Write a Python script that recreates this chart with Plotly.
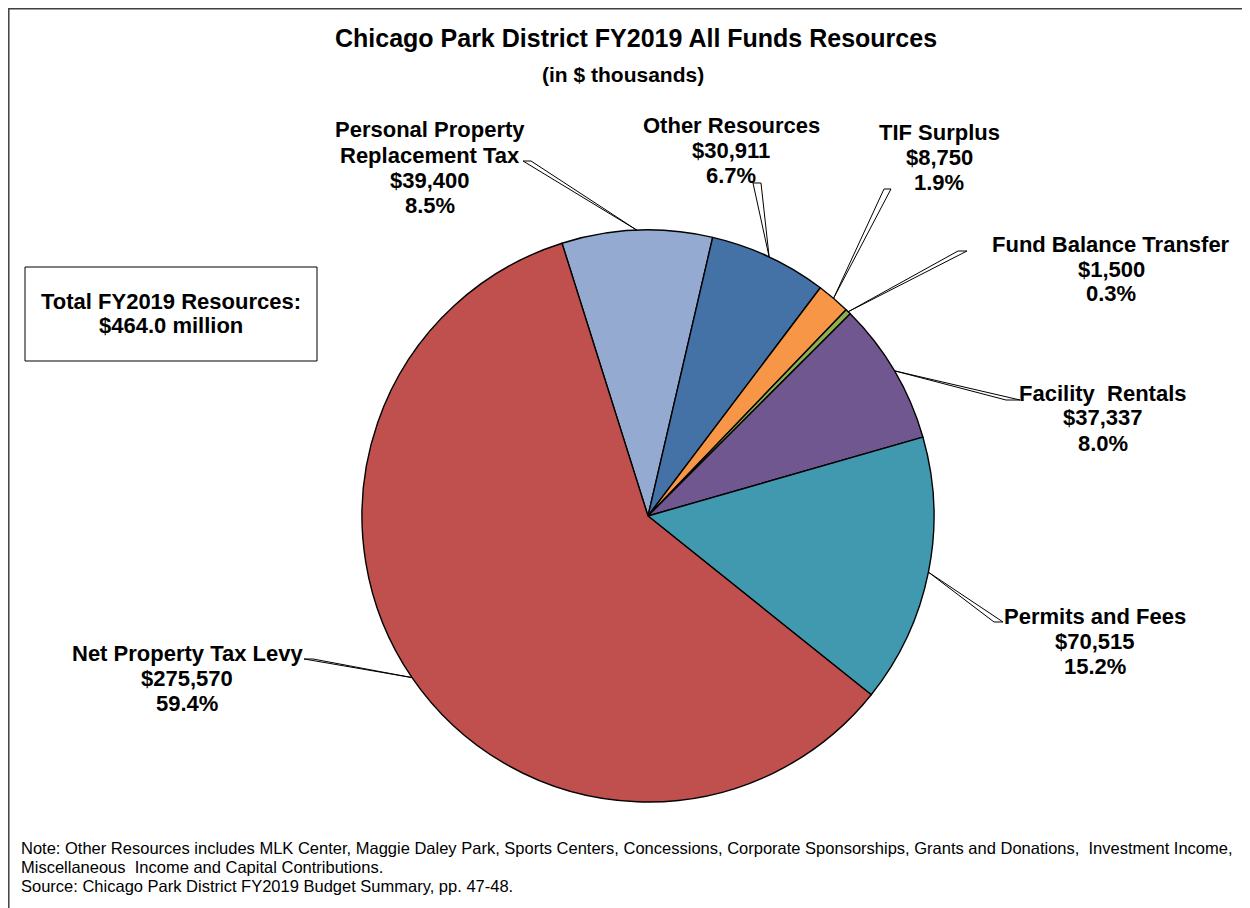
import math
import plotly.graph_objects as go

# ---- data ----
categories = ["Personal Property Replacement Tax", "Other Resources", "TIF Surplus",
              "Fund Balance Transfer", "Facility Rentals", "Permits and Fees",
              "Net Property Tax Levy"]
values = [39400, 30911, 8750, 1500, 37337, 70515, 275570]
colors = ["#95AAD1", "#4472A6", "#F79646", "#8EB04D", "#71578F", "#4199B0", "#C0504D"]
label_lines = [
    ["Personal Property", "Replacement Tax"],
    ["Other Resources"],
    ["TIF Surplus"],
    ["Fund Balance Transfer"],
    ["Facility  Rentals"],
    ["Permits and Fees"],
    ["Net Property Tax Levy"],
]

# page has an 8px body margin: figure occupies window pixels 8..1250, 8..908
OFF = 8
W, H = 1250 - OFF, 908 - OFF
CX, CY, R = 648, 516, 286
ROT = -17.5

def px(x):
    return (x - OFF) / W

def py(y):
    return 1 - (y - OFF) / H

total = sum(values)

fig = go.Figure(go.Pie(
    labels=categories, values=values, sort=False, direction="clockwise",
    rotation=ROT, marker=dict(colors=colors, line=dict(color="black", width=1.4)),
    textinfo="none", hoverinfo="label+value+percent", showlegend=False,
    domain=dict(x=[px(CX - R), px(CX + R)], y=[py(CY + R), py(CY - R)]),
))

# label layout: (center x, first line y), leader base (xl, xr, y)
label_pos = [(430, 130), (731, 125), (939, 132), (1111, 244), (1103, 393), (1095, 616), (187, 653)]
leader_base = [(523, 531, 161), (753, 761, 183), (884, 891, 189), (958, 967, 251),
               (1006, 1020, 400), (994, 1003, 622), (304, 313, 659)]

annotations = []
shapes = []
FAM = "Liberation Sans, Arial, sans-serif"
LBL_FONT = dict(family=FAM, size=22, color="black")

start = ROT
for i, v in enumerate(values):
    frac = v / total
    mid = math.radians(start + frac * 360 / 2)
    start += frac * 360
    ax = CX + R * math.sin(mid)
    ay = CY - R * math.cos(mid)
    lines = label_lines[i] + ["${:,}".format(v), "{:.1f}%".format(frac * 100)]
    lx, ly = label_pos[i]
    for k, t in enumerate(lines):
        annotations.append(dict(x=px(lx), y=py(ly + 25 * k), xref="paper", yref="paper",
                                text="<b>%s</b>" % t, showarrow=False, xanchor="center",
                                yanchor="middle", font=LBL_FONT))
    xl, xr, by = leader_base[i]
    path = "M %f %f L %f %f L %f %f Z" % (px(ax), py(ay), px(xl), py(by), px(xr), py(by))
    shapes.append(dict(type="path", path=path, xref="paper", yref="paper",
                       fillcolor="white", line=dict(color="black", width=1), layer="above"))

# titles
annotations.append(dict(x=px(636), y=py(38), xref="paper", yref="paper",
                        text="<b>Chicago Park District FY2019 All Funds Resources</b>",
                        showarrow=False, xanchor="center", yanchor="middle",
                        font=dict(family=FAM, size=25, color="black")))
annotations.append(dict(x=px(623), y=py(75), xref="paper", yref="paper",
                        text="<b>(in $ thousands)</b>", showarrow=False, xanchor="center",
                        yanchor="middle", font=dict(family=FAM, size=21, color="black")))

# total box
shapes.append(dict(type="rect", xref="paper", yref="paper", x0=px(25), x1=px(317),
                   y0=py(361), y1=py(267), line=dict(color="black", width=1), fillcolor="white",
                   layer="below"))
box_lines = ["Total FY2019 Resources:", "${:.1f} million".format(total / 1000)]
for k, t in enumerate(box_lines):
    annotations.append(dict(x=px(171), y=py(301 + 25 * k), xref="paper", yref="paper",
                            text="<b>%s</b>" % t, showarrow=False, xanchor="center",
                            yanchor="middle", font=LBL_FONT))

# notes
notes = [
    "Note: Other Resources includes MLK Center, Maggie Daley Park, Sports Centers, Concessions, Corporate Sponsorships, Grants and Donations,  Investment Income,",
    "Miscellaneous  Income and Capital Contributions.",
    "Source: Chicago Park District FY2019 Budget Summary, pp. 47-48.",
]
for k, t in enumerate(notes):
    annotations.append(dict(x=px(19), y=py(848 + 19 * k), xref="paper", yref="paper",
                            text=t, showarrow=False, xanchor="left", yanchor="middle",
                            font=dict(family=FAM, size=16.5, color="black")))

# outer frame (left and top edges visible)
shapes.append(dict(type="rect", xref="paper", yref="paper", x0=px(8.8), x1=px(1290),
                   y0=py(960), y1=py(8.8), line=dict(color="#404040", width=1.5), layer="below"))

fig.update_layout(width=W, height=H, margin=dict(l=0, r=0, t=0, b=0, pad=0),
                  paper_bgcolor="white", plot_bgcolor="white",
                  annotations=annotations, shapes=shapes)

fig.write_html("out.html")
